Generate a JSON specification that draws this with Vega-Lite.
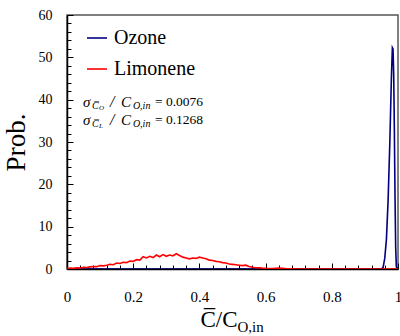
{
  "$schema": "https://vega.github.io/schema/vega-lite/v6.json",
  "width": 331,
  "height": 254,
  "autosize": "none",
  "padding": {"left": 67, "top": 15, "right": 2, "bottom": 67},
  "background": "white",
  "config": {
    "font": "Liberation Serif",
    "text": {"font": "Liberation Serif", "color": "black"},
    "mark": {"font": "Liberation Serif"},
    "legend": {"labelFont": "Liberation Serif"},
    "axis": {"labelFont": "Liberation Serif", "titleFont": "Liberation Serif"},
    "view": {"stroke": "#555", "strokeWidth": 1.5}
  },
  "datasets": {
    "curves": [
      {"series": "Ozone", "x": 0, "y": 0},
      {"series": "Ozone", "x": 0.95, "y": 0},
      {"series": "Ozone", "x": 0.955, "y": 0.4},
      {"series": "Ozone", "x": 0.96, "y": 2.5},
      {"series": "Ozone", "x": 0.965, "y": 7},
      {"series": "Ozone", "x": 0.97, "y": 16},
      {"series": "Ozone", "x": 0.975, "y": 29},
      {"series": "Ozone", "x": 0.98, "y": 45},
      {"series": "Ozone", "x": 0.983, "y": 52.3},
      {"series": "Ozone", "x": 0.985, "y": 52},
      {"series": "Ozone", "x": 0.987, "y": 46},
      {"series": "Ozone", "x": 0.989, "y": 33},
      {"series": "Ozone", "x": 0.991, "y": 17},
      {"series": "Ozone", "x": 0.993, "y": 5},
      {"series": "Ozone", "x": 0.995, "y": 0.5},
      {"series": "Ozone", "x": 1.0, "y": 0},
      {"series": "Limonene", "x": 0.00, "y": 0.1},
      {"series": "Limonene", "x": 0.01, "y": 0.2},
      {"series": "Limonene", "x": 0.02, "y": 0.15},
      {"series": "Limonene", "x": 0.03, "y": 0.3},
      {"series": "Limonene", "x": 0.04, "y": 0.25},
      {"series": "Limonene", "x": 0.05, "y": 0.4},
      {"series": "Limonene", "x": 0.06, "y": 0.35},
      {"series": "Limonene", "x": 0.07, "y": 0.5},
      {"series": "Limonene", "x": 0.08, "y": 0.6},
      {"series": "Limonene", "x": 0.09, "y": 0.55},
      {"series": "Limonene", "x": 0.10, "y": 0.8},
      {"series": "Limonene", "x": 0.11, "y": 0.75},
      {"series": "Limonene", "x": 0.12, "y": 0.9},
      {"series": "Limonene", "x": 0.13, "y": 1.1},
      {"series": "Limonene", "x": 0.14, "y": 1.0},
      {"series": "Limonene", "x": 0.15, "y": 1.4},
      {"series": "Limonene", "x": 0.16, "y": 1.3},
      {"series": "Limonene", "x": 0.17, "y": 1.6},
      {"series": "Limonene", "x": 0.18, "y": 1.5},
      {"series": "Limonene", "x": 0.19, "y": 1.9},
      {"series": "Limonene", "x": 0.20, "y": 1.8},
      {"series": "Limonene", "x": 0.21, "y": 2.2},
      {"series": "Limonene", "x": 0.22, "y": 2.1},
      {"series": "Limonene", "x": 0.23, "y": 2.9},
      {"series": "Limonene", "x": 0.24, "y": 2.6},
      {"series": "Limonene", "x": 0.25, "y": 3.0},
      {"series": "Limonene", "x": 0.26, "y": 2.7},
      {"series": "Limonene", "x": 0.27, "y": 3.3},
      {"series": "Limonene", "x": 0.28, "y": 2.9},
      {"series": "Limonene", "x": 0.29, "y": 3.4},
      {"series": "Limonene", "x": 0.30, "y": 3.0},
      {"series": "Limonene", "x": 0.31, "y": 3.3},
      {"series": "Limonene", "x": 0.32, "y": 3.1},
      {"series": "Limonene", "x": 0.33, "y": 3.6},
      {"series": "Limonene", "x": 0.34, "y": 3.2},
      {"series": "Limonene", "x": 0.35, "y": 2.8},
      {"series": "Limonene", "x": 0.36, "y": 2.6},
      {"series": "Limonene", "x": 0.37, "y": 2.4},
      {"series": "Limonene", "x": 0.38, "y": 2.6},
      {"series": "Limonene", "x": 0.39, "y": 2.5},
      {"series": "Limonene", "x": 0.40, "y": 2.8},
      {"series": "Limonene", "x": 0.41, "y": 2.6},
      {"series": "Limonene", "x": 0.42, "y": 2.4},
      {"series": "Limonene", "x": 0.43, "y": 2.1},
      {"series": "Limonene", "x": 0.44, "y": 2.0},
      {"series": "Limonene", "x": 0.45, "y": 1.8},
      {"series": "Limonene", "x": 0.46, "y": 1.7},
      {"series": "Limonene", "x": 0.47, "y": 1.5},
      {"series": "Limonene", "x": 0.48, "y": 1.4},
      {"series": "Limonene", "x": 0.49, "y": 1.2},
      {"series": "Limonene", "x": 0.50, "y": 1.1},
      {"series": "Limonene", "x": 0.51, "y": 1.0},
      {"series": "Limonene", "x": 0.52, "y": 0.9},
      {"series": "Limonene", "x": 0.53, "y": 0.8},
      {"series": "Limonene", "x": 0.54, "y": 0.9},
      {"series": "Limonene", "x": 0.55, "y": 0.6},
      {"series": "Limonene", "x": 0.56, "y": 0.4},
      {"series": "Limonene", "x": 0.57, "y": 0.3},
      {"series": "Limonene", "x": 0.58, "y": 0.3},
      {"series": "Limonene", "x": 0.59, "y": 0.2},
      {"series": "Limonene", "x": 0.60, "y": 0.15},
      {"series": "Limonene", "x": 0.62, "y": 0.1},
      {"series": "Limonene", "x": 0.64, "y": 0.2},
      {"series": "Limonene", "x": 0.66, "y": 0.1},
      {"series": "Limonene", "x": 0.68, "y": 0.05},
      {"series": "Limonene", "x": 0.70, "y": 0},
      {"series": "Limonene", "x": 1.0, "y": 0}
    ]
  },
  "layer": [
    {
      "data": {"name": "curves"},
      "mark": {"type": "line", "strokeWidth": 1.6, "clip": true},
      "encoding": {
        "x": {
          "field": "x", "type": "quantitative",
          "scale": {"domain": [0, 1], "nice": false},
          "axis": {
            "values": [0,0.04,0.08,0.12,0.16,0.2,0.24,0.28,0.32,0.36,0.4,0.44,0.48,0.52,0.56,0.6,0.64,0.68,0.72,0.76,0.8,0.84,0.88,0.92,0.96,1],
            "tickCount": 200,
            "labelExpr": "abs(datum.value*5 - round(datum.value*5)) < 0.001 ? format(datum.value, '~g') : ''",
            "tickSize": {"condition": {"test": "abs(datum.value*5 - round(datum.value*5)) < 0.001", "value": -6}, "value": -4},
            "tickColor": "black", "tickWidth": 1,
            "domainColor": "black", "domainWidth": 1.5,
            "grid": false, "labelFont": "Liberation Serif", "labelFontSize": 15, "labelColor": "black",
            "labelPadding": 26, "labelFlush": false, "labelOverlap": false,
            "title": null
          }
        },
        "y": {
          "field": "y", "type": "quantitative",
          "scale": {"domain": [0, 60], "nice": false},
          "axis": {
            "values": [0,2,4,6,8,10,12,14,16,18,20,22,24,26,28,30,32,34,36,38,40,42,44,46,48,50,52,54,56,58,60],
            "tickCount": 200,
            "labelExpr": "datum.value % 10 === 0 ? format(datum.value, 'd') : ''",
            "tickSize": {"condition": {"test": "datum.value % 10 === 0", "value": -6}, "value": -4},
            "tickColor": "black", "tickWidth": 1,
            "domainColor": "black", "domainWidth": 1.5,
            "grid": false, "labelFont": "Liberation Serif", "labelFontSize": 14, "labelColor": "black",
            "labelPadding": 21, "labelFlush": false, "labelOverlap": false,
            "title": "Prob.", "titleFont": "Liberation Serif", "titleFontSize": 27, "titleFontWeight": "normal",
            "titleColor": "black", "titlePadding": 8
          }
        },
        "color": {
          "field": "series", "type": "nominal",
          "scale": {"domain": ["Ozone", "Limonene"], "range": ["#000080", "#ff0000"]},
          "legend": {
            "orient": "none", "legendX": 19, "legendY": 12, "title": null,
            "symbolType": "stroke", "symbolSize": 400, "symbolStrokeWidth": 1.6,
            "labelFont": "Liberation Serif",
            "labelFontSize": 20, "labelColor": "black", "labelOffset": 6,
            "rowPadding": 10, "padding": 0
          }
        },
        "detail": {"field": "series"}
      }
    },
    {"data": {"values": [{}]}, "mark": {"type": "text", "font": "Liberation Serif", "text": "σ", "fontSize": 15, "fontStyle": "italic", "align": "left", "baseline": "middle"}, "encoding": {"x": {"datum": 0.048}, "y": {"datum": 39.4}}},
    {"data": {"values": [{}]}, "mark": {"type": "text", "font": "Liberation Serif", "text": "C̅", "fontSize": 10, "fontStyle": "italic", "align": "left", "baseline": "middle", "dx": 9, "dy": 4}, "encoding": {"x": {"datum": 0.048}, "y": {"datum": 39.4}}},
    {"data": {"values": [{}]}, "mark": {"type": "text", "font": "Liberation Serif", "text": "O", "fontSize": 7, "fontStyle": "italic", "align": "left", "baseline": "middle", "dx": 16, "dy": 6}, "encoding": {"x": {"datum": 0.048}, "y": {"datum": 39.4}}},
    {"data": {"values": [{}]}, "mark": {"type": "text", "font": "Liberation Serif", "text": "/", "fontSize": 16, "fontStyle": "italic", "align": "left", "baseline": "middle", "dx": 27}, "encoding": {"x": {"datum": 0.048}, "y": {"datum": 39.4}}},
    {"data": {"values": [{}]}, "mark": {"type": "text", "font": "Liberation Serif", "text": "C", "fontSize": 15, "fontStyle": "italic", "align": "left", "baseline": "middle", "dx": 38}, "encoding": {"x": {"datum": 0.048}, "y": {"datum": 39.4}}},
    {"data": {"values": [{}]}, "mark": {"type": "text", "font": "Liberation Serif", "text": "O,in", "fontSize": 10, "fontStyle": "italic", "align": "left", "baseline": "middle", "dx": 50, "dy": 4}, "encoding": {"x": {"datum": 0.048}, "y": {"datum": 39.4}}},
    {"data": {"values": [{}]}, "mark": {"type": "text", "font": "Liberation Serif", "text": "= 0.0076", "fontSize": 13.5, "align": "left", "baseline": "middle", "dx": 72}, "encoding": {"x": {"datum": 0.048}, "y": {"datum": 39.4}}},
    {"data": {"values": [{}]}, "mark": {"type": "text", "font": "Liberation Serif", "text": "σ", "fontSize": 15, "fontStyle": "italic", "align": "left", "baseline": "middle"}, "encoding": {"x": {"datum": 0.048}, "y": {"datum": 35.2}}},
    {"data": {"values": [{}]}, "mark": {"type": "text", "font": "Liberation Serif", "text": "C̅", "fontSize": 10, "fontStyle": "italic", "align": "left", "baseline": "middle", "dx": 9, "dy": 4}, "encoding": {"x": {"datum": 0.048}, "y": {"datum": 35.2}}},
    {"data": {"values": [{}]}, "mark": {"type": "text", "font": "Liberation Serif", "text": "L", "fontSize": 7, "fontStyle": "italic", "align": "left", "baseline": "middle", "dx": 16, "dy": 6}, "encoding": {"x": {"datum": 0.048}, "y": {"datum": 35.2}}},
    {"data": {"values": [{}]}, "mark": {"type": "text", "font": "Liberation Serif", "text": "/", "fontSize": 16, "fontStyle": "italic", "align": "left", "baseline": "middle", "dx": 27}, "encoding": {"x": {"datum": 0.048}, "y": {"datum": 35.2}}},
    {"data": {"values": [{}]}, "mark": {"type": "text", "font": "Liberation Serif", "text": "C", "fontSize": 15, "fontStyle": "italic", "align": "left", "baseline": "middle", "dx": 38}, "encoding": {"x": {"datum": 0.048}, "y": {"datum": 35.2}}},
    {"data": {"values": [{}]}, "mark": {"type": "text", "font": "Liberation Serif", "text": "O,in", "fontSize": 10, "fontStyle": "italic", "align": "left", "baseline": "middle", "dx": 50, "dy": 4}, "encoding": {"x": {"datum": 0.048}, "y": {"datum": 35.2}}},
    {"data": {"values": [{}]}, "mark": {"type": "text", "font": "Liberation Serif", "text": "= 0.1268", "fontSize": 13.5, "align": "left", "baseline": "middle", "dx": 72}, "encoding": {"x": {"datum": 0.048}, "y": {"datum": 35.2}}},
    {"data": {"values": [{}]}, "mark": {"type": "text", "font": "Liberation Serif", "text": "C̅/C", "fontSize": 23, "align": "right", "baseline": "middle", "dx": 5}, "encoding": {"x": {"datum": 0.5}, "y": {"datum": -12.1}}},
    {"data": {"values": [{}]}, "mark": {"type": "text", "font": "Liberation Serif", "text": "O,in", "fontSize": 15, "align": "left", "baseline": "middle", "dx": 5}, "encoding": {"x": {"datum": 0.5}, "y": {"datum": -13.7}}}
  ]
}
